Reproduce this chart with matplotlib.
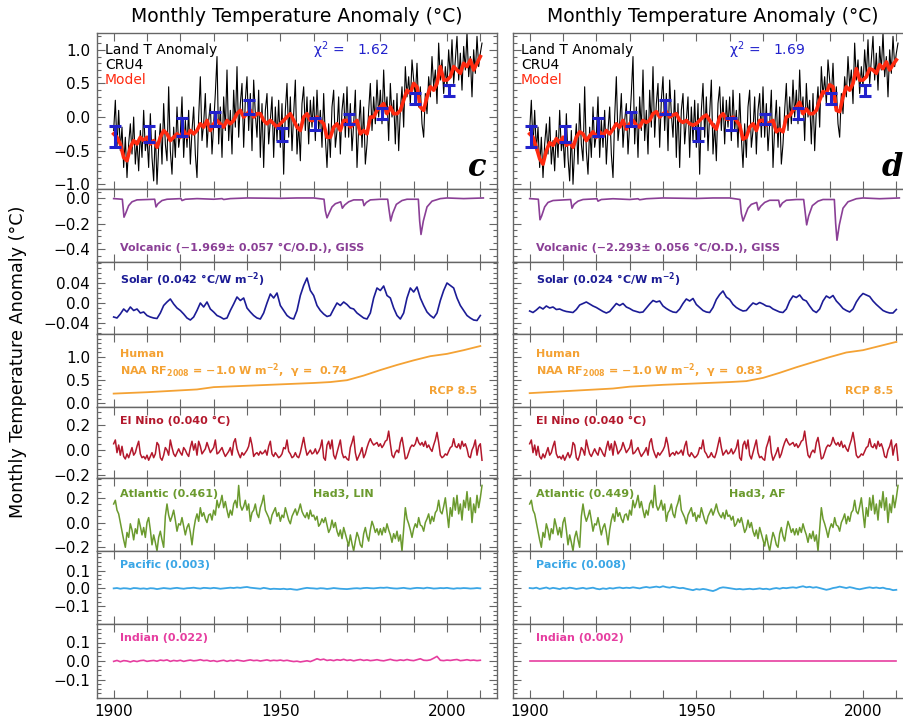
import numpy as np
import matplotlib.pyplot as plt
from matplotlib.ticker import MultipleLocator, FuncFormatter

plt.rcParams['font.family'] = ['DejaVu Sans']
plt.rcParams['mathtext.default'] = 'regular'

# ---------------------------------------------------------------------------
# data
# CRU4 land temperature anomaly, half-year steps from 1900.0
cru4 = [
    -0.2, 0.25, -0.45, 0.1, -0.5, -0.15, -0.75, -0.3, -0.9, -0.4,
    -0.1, -0.55, 0.0, -0.7, -0.35, -0.8, -0.2, -0.6, 0.1, -0.5,
    -0.3, -0.75, 0.05, -0.6, -0.95, -0.2, -1.0, -0.45, -0.1, -0.7,
    0.2, -0.4, -0.65, 0.45, -0.5, -0.85, -0.15, -0.6, 0.15, -0.45,
    -0.25, 0.3, -0.6, -0.05, -0.45, 0.1, -0.7, -0.2, 0.15, -0.55,
    -0.9, 0.0, 0.6, -0.35, -0.1, 0.35, -0.45, -0.05, 0.2, -0.55,
    -0.1, 0.35, 0.9, -0.4, 0.15, -0.6, 0.3, -0.2, 0.7, -0.35,
    0.1, -0.55, 0.4, -0.15, 0.75, -0.3, 0.2, 0.5, -0.45, 0.25,
    0.6, -0.2, 0.35, -0.5, 0.55, 0.05, -0.3, 0.4, -0.6, 0.2,
    -0.75, 0.1, 0.35, -0.4, -0.05, 0.3, -0.6, 0.15, -0.35, 0.25,
    -0.45, 0.2, -0.85, 0.1, 0.5, -0.3, 0.3, -0.5, 0.05, 0.55,
    -0.55, -0.1, -0.65, 0.2, 0.45, -0.2, 0.3, -0.4, 0.25, -0.15,
    0.3, -0.35, 0.4, -0.2, 0.1, -0.45, 0.35, -0.3, -0.75, -0.1,
    -0.6, 0.15, 0.4, -0.45, -0.2, 0.3, -0.55, 0.1, 0.35, -0.3,
    0.45, -0.3, 0.2, -0.5, -0.1, 0.4, -0.75, -0.15, 0.25, -0.45,
    0.15, -0.7, -0.4, 0.1, 0.5, -0.2, 0.3, -0.1, 0.55, 0.0,
    0.4, -0.1, 0.7, 0.05, 0.3, -0.35, 0.5, 0.0, 0.25, -0.4,
    0.35, -0.5, 0.1, 0.45, -0.15, 0.75, 0.3, 0.6, 0.2, 0.85,
    0.55, 0.3, 0.8, 0.15, 0.45, -0.1, -0.3, 0.35, 0.05, 0.6,
    0.3, 0.9, 0.45, 0.7, 0.2, 1.1, 0.55, 0.85, 0.35, 0.75,
    0.45, 1.0, 0.6, 1.15, 0.5, 0.85, 1.2, 0.55, 0.95, 0.4,
    1.05, 0.7, 1.25, 0.6, 0.9, 0.3, 1.0, 0.65, 1.2, 0.75,
    0.95, 1.1,
]

# decadal means of the observations with their uncertainty
dec_years = [1900.5, 1910.5, 1920.5, 1930.5, 1940.5, 1950.5,
             1960.5, 1970.5, 1980.5, 1990.5, 2000.5]
dec_mean = [-0.29, -0.25, -0.15, -0.03, 0.15, -0.26, -0.1, -0.03, 0.05, 0.28, 0.4]
dec_err = [0.15, 0.12, 0.13, 0.11, 0.11, 0.1, 0.09, 0.08, 0.08, 0.08, 0.08]

# fitted model, yearly from 1900
model_c = [
    -0.25, -0.3, -0.4, -0.6, -0.65, -0.45, -0.35, -0.4, -0.3, -0.35,
    -0.3, -0.4, -0.35, -0.45, -0.3, -0.2, -0.25, -0.35, -0.3, -0.25,
    -0.3, -0.2, -0.3, -0.2, -0.25, -0.2, -0.1, -0.15, -0.05, -0.2,
    -0.1, -0.05, -0.1, -0.15, -0.05, -0.1, -0.05, 0.05, 0.1, 0.0,
    0.05, 0.1, 0.0, 0.05, 0.05, -0.05, -0.1, -0.05, -0.1, -0.15,
    -0.1, -0.05, 0.0, 0.05, -0.05, -0.15, -0.2, 0.0, 0.05, -0.05,
    -0.05, 0.0, -0.05, -0.1, -0.3, -0.3, -0.15, -0.1, -0.2, -0.05,
    -0.05, -0.15, -0.1, -0.05, -0.25, -0.2, -0.25, 0.0, 0.0, 0.1,
    0.15, 0.2, 0.05, 0.15, 0.05, 0.05, 0.1, 0.25, 0.4, 0.35,
    0.5, 0.45, 0.15, 0.1, 0.3, 0.45, 0.4, 0.5, 0.75, 0.55,
    0.55, 0.6, 0.75, 0.7, 0.65, 0.8, 0.75, 0.85, 0.7, 0.8, 0.9,
]
model_d = [
    -0.25, -0.3, -0.45, -0.62, -0.7, -0.5, -0.38, -0.42, -0.32, -0.38,
    -0.3, -0.42, -0.38, -0.45, -0.3, -0.22, -0.25, -0.35, -0.28, -0.22,
    -0.3, -0.22, -0.28, -0.2, -0.25, -0.18, -0.1, -0.15, -0.05, -0.18,
    -0.1, -0.05, -0.12, -0.15, -0.05, -0.08, -0.05, 0.05, 0.08, 0.0,
    0.05, 0.08, 0.0, 0.03, 0.05, -0.05, -0.08, -0.05, -0.1, -0.12,
    -0.1, -0.05, 0.0, 0.03, -0.05, -0.12, -0.18, 0.0, 0.05, -0.03,
    -0.03, 0.0, -0.05, -0.12, -0.33, -0.3, -0.15, -0.1, -0.2, -0.05,
    -0.05, -0.12, -0.08, -0.05, -0.22, -0.18, -0.22, 0.0, 0.02, 0.1,
    0.15, 0.22, 0.05, 0.12, 0.05, 0.05, 0.1, 0.25, 0.38, 0.35,
    0.48, 0.45, 0.1, 0.08, 0.3, 0.45, 0.4, 0.5, 0.72, 0.55,
    0.55, 0.6, 0.72, 0.7, 0.65, 0.78, 0.72, 0.82, 0.7, 0.78, 0.85,
]

# volcanic response, sampled around each eruption
volc_years = [1900, 1902.6, 1903.1, 1903.6, 1904.5, 1905.5, 1907, 1912.3, 1912.7,
              1913.3, 1914.5, 1916, 1920.2, 1920.5, 1921.5, 1925, 1930, 1932.5,
              1933, 1935, 1940, 1950, 1955, 1960, 1963.1, 1963.5, 1964.0, 1964.6,
              1965.5, 1966.5, 1968.1, 1968.6, 1969.3, 1970.5, 1972, 1974.7, 1975.1,
              1975.8, 1977, 1980, 1982.2, 1982.6, 1983.1, 1983.7, 1984.8, 1986.5,
              1988, 1991.4, 1991.8, 1992.2, 1992.9, 1994, 1995.5, 1998, 2000,
              2005, 2010.9]
volc_c = [-0.005, -0.01, -0.15, -0.12, -0.06, -0.03, -0.015, -0.01, -0.07,
          -0.045, -0.02, -0.01, -0.005, -0.02, -0.01, -0.005, -0.01, -0.005,
          -0.012, -0.005, 0.0, -0.003, 0.0, 0.0, -0.01, -0.1, -0.155, -0.12,
          -0.07, -0.045, -0.03, -0.08, -0.055, -0.03, -0.015, -0.015, -0.06,
          -0.035, -0.015, -0.01, -0.01, -0.09, -0.18, -0.12, -0.05, -0.02,
          -0.01, -0.01, -0.18, -0.285, -0.18, -0.07, -0.025, -0.005, 0.0,
          -0.005, 0.0]
volc_d = [-0.005, -0.01, -0.17, -0.14, -0.07, -0.035, -0.02, -0.012, -0.08,
          -0.05, -0.025, -0.012, -0.006, -0.025, -0.012, -0.006, -0.012, -0.006,
          -0.014, -0.006, 0.0, -0.004, 0.0, 0.0, -0.012, -0.12, -0.18, -0.14,
          -0.08, -0.05, -0.035, -0.095, -0.065, -0.035, -0.018, -0.018, -0.07,
          -0.04, -0.018, -0.012, -0.012, -0.1, -0.21, -0.14, -0.06, -0.025,
          -0.012, -0.012, -0.2, -0.33, -0.21, -0.08, -0.03, -0.006, 0.0,
          -0.006, 0.0]

# solar response, yearly from 1900
solar_c = [
    -0.028, -0.03, -0.022, -0.012, -0.018, -0.008, -0.015, -0.012, -0.02, -0.018,
    -0.025, -0.028, -0.03, -0.031, -0.02, -0.005, 0.002, 0.008, -0.002, -0.01,
    -0.015, -0.022, -0.03, -0.034, -0.028, -0.015, 0.0, -0.008, 0.002, -0.012,
    -0.018, -0.025, -0.028, -0.032, -0.03, -0.015, -0.002, 0.012, 0.005, 0.01,
    -0.01, -0.018, -0.025, -0.03, -0.032, -0.02, 0.0, 0.018, 0.01, 0.02,
    -0.005, -0.015, -0.025, -0.03, -0.032, -0.015, 0.015, 0.035, 0.05, 0.025,
    0.015, -0.005, -0.015, -0.022, -0.027, -0.025, -0.012, 0.0, -0.005, 0.002,
    -0.003, -0.01, -0.012, -0.02, -0.025, -0.03, -0.032, -0.02, 0.01, 0.03,
    0.025, 0.034, 0.015, 0.01, -0.01, -0.025, -0.032, -0.02, 0.01, 0.03,
    0.022, 0.032, 0.01, -0.005, -0.018, -0.025, -0.03, -0.02, 0.005, 0.025,
    0.04, 0.035, 0.03, 0.01, -0.005, -0.015, -0.025, -0.03, -0.034, -0.035, -0.025,
]
solar_d = [
    -0.016, -0.019, -0.014, -0.008, -0.012, -0.006, -0.01, -0.008, -0.013, -0.012,
    -0.015, -0.017, -0.018, -0.019, -0.013, -0.004, -0.001, 0.002, -0.002, -0.006,
    -0.009, -0.013, -0.017, -0.02, -0.017, -0.009, -0.001, -0.005, -0.001, -0.008,
    -0.011, -0.015, -0.017, -0.019, -0.018, -0.01, -0.002, 0.005, 0.002, 0.004,
    -0.006, -0.011, -0.015, -0.018, -0.019, -0.012, -0.001, 0.008, 0.004, 0.009,
    -0.003, -0.009, -0.015, -0.018, -0.019, -0.009, 0.007, 0.017, 0.024, 0.012,
    0.007, -0.003, -0.009, -0.013, -0.016, -0.015, -0.007, 0.0, -0.003, 0.001,
    -0.002, -0.006, -0.007, -0.012, -0.015, -0.018, -0.019, -0.012, 0.004, 0.014,
    0.011, 0.016, 0.007, 0.004, -0.006, -0.015, -0.019, -0.012, 0.004, 0.014,
    0.01, 0.015, 0.004, -0.003, -0.011, -0.015, -0.018, -0.012, 0.002, 0.012,
    0.019, 0.016, 0.013, 0.004, -0.003, -0.009, -0.015, -0.018, -0.02, -0.02, -0.013,
]

# anthropogenic response (RCP 8.5)
human_years = [1900, 1910, 1920, 1925, 1930, 1940, 1950, 1960, 1965,
               1970, 1975, 1980, 1985, 1990, 1995, 2000, 2005, 2010]
human_c = [0.21, 0.24, 0.28, 0.3, 0.35, 0.38, 0.41, 0.44, 0.46,
           0.5, 0.6, 0.72, 0.83, 0.93, 1.02, 1.07, 1.15, 1.24]
human_d = [0.22, 0.26, 0.3, 0.32, 0.36, 0.4, 0.43, 0.46, 0.48,
           0.55, 0.66, 0.78, 0.89, 1.0, 1.1, 1.15, 1.24, 1.33]

# ENSO response, half-year steps from 1900.0 (same in both fits)
enso = [
    0.05, 0.08, -0.02, 0.04, -0.04, 0.03, -0.05, -0.07, -0.03, -0.06,
    -0.02, 0.02, -0.04, -0.02, 0.03, 0.07, -0.03, -0.06, -0.05, -0.07,
    -0.04, -0.08, -0.05, -0.02, -0.06, -0.03, 0.06, 0.04, -0.06, -0.08,
    -0.04, 0.02, 0.0, -0.04, 0.08, 0.02, -0.03, -0.05, -0.02, 0.01,
    -0.02, -0.04, 0.02, 0.0, -0.03, -0.05, 0.02, 0.07, 0.0, 0.05,
    -0.04, 0.07, 0.03, -0.03, -0.01, 0.01, 0.06, 0.02, -0.02, 0.0,
    0.02, 0.08, -0.03, -0.02, 0.0, 0.02, -0.02, -0.05, -0.03, -0.01,
    0.02, -0.04, 0.06, 0.09, 0.01, -0.03, -0.06, -0.02, -0.04, -0.02,
    0.0, 0.03, 0.1, 0.04, -0.05, -0.03, -0.02, -0.04, -0.01, -0.03,
    -0.02, 0.0, -0.04, 0.03, 0.07, -0.03, -0.05, -0.02, -0.04, -0.06,
    -0.05, -0.03, 0.02, 0.01, 0.08, -0.01, -0.03, -0.06, -0.05, -0.02,
    -0.05, -0.06, -0.02, 0.04, 0.1, 0.02, -0.04, -0.02, 0.0, -0.03,
    -0.02, 0.01, -0.03, -0.01, 0.02, 0.08, -0.06, -0.08, 0.04, 0.07,
    0.01, 0.08, -0.04, -0.07, -0.02, 0.03, 0.08, -0.02, -0.06, -0.05,
    -0.07, -0.08, 0.02, 0.06, 0.11, -0.02, -0.08, -0.05, -0.02, 0.02,
    -0.06, -0.03, 0.02, 0.06, 0.09, 0.06, 0.04, 0.05, 0.06, 0.03,
    0.05, 0.02, 0.04, 0.07, 0.08, 0.15, 0.05, -0.04, -0.06, -0.02,
    0.0, -0.02, 0.06, 0.1, 0.02, -0.07, -0.06, -0.02, 0.02, 0.04,
    0.03, 0.05, 0.1, 0.06, 0.04, 0.06, 0.03, 0.07, 0.02, 0.04,
    0.01, -0.01, 0.04, 0.08, 0.14, 0.06, -0.04, -0.06, -0.05, -0.03,
    -0.04, -0.01, 0.02, 0.03, 0.09, 0.03, 0.02, 0.05, 0.01, 0.07,
    0.03, 0.05, 0.01, -0.05, -0.06, 0.0, 0.03, 0.08, -0.04, 0.03,
    0.05, -0.08,
]

# Atlantic (AMO) response, half-year steps from 1900.0
atlantic = [
    0.15, 0.18, 0.1, 0.07, 0.0, -0.07, -0.14, -0.2, -0.08, -0.12,
    -0.01, -0.06, -0.14, -0.05, -0.09, 0.03, -0.03, -0.1, -0.04, -0.12,
    0.0, 0.04, -0.06, -0.18, -0.1, -0.16, -0.23, -0.12, -0.07, -0.14,
    -0.2, 0.05, 0.15, 0.06, 0.01, 0.05, 0.1, 0.02, -0.07, -0.01,
    -0.02, 0.04, -0.03, -0.1, -0.04, -0.01, -0.08, -0.18, -0.06, 0.02,
    0.07, 0.01, 0.12, 0.05, 0.08, 0.03, 0.0, 0.06, 0.07, 0.02,
    0.1, 0.06, 0.18, 0.12, 0.16, 0.22, 0.12, 0.17, 0.1, 0.04,
    0.1, 0.06, 0.15, 0.18, 0.12, 0.3, 0.14, 0.1, 0.13, 0.18,
    0.1, 0.15, 0.01, 0.08, 0.1, 0.15, 0.07, 0.04, 0.12, 0.16,
    0.22, 0.1, 0.07, 0.04, -0.01, 0.06, 0.09, 0.12, 0.05, 0.08,
    0.01, 0.06, 0.04, 0.12, 0.07, 0.02, -0.01, 0.05, 0.08, 0.11,
    0.06, 0.1, 0.15, 0.09, 0.06, 0.04, 0.08, 0.03, 0.1, 0.05,
    0.06, 0.02, 0.05, -0.03, -0.01, 0.03, 0.0, 0.04, -0.02, -0.08,
    -0.05, 0.02, -0.04, 0.0, -0.07, -0.11, -0.06, -0.13, -0.04, -0.09,
    -0.14, -0.19, -0.1, -0.17, -0.23, -0.15, -0.08, -0.12, -0.18, -0.2,
    -0.09, -0.04, -0.11, -0.15, -0.06, 0.01, -0.03, -0.08, -0.05, -0.1,
    -0.05, -0.1, -0.04, -0.08, -0.01, -0.06, -0.1, -0.16, -0.09, -0.13,
    -0.07, -0.15, -0.1, -0.23, -0.05, 0.12, 0.03, -0.01, -0.06, -0.12,
    -0.05, -0.01, -0.04, 0.04, -0.02, -0.03, -0.07, 0.0, 0.03, 0.07,
    -0.01, 0.05, 0.01, 0.08, 0.1, 0.18, 0.09, 0.07, 0.13, 0.2,
    0.08, -0.04, 0.12, 0.05, 0.2, 0.1, 0.22, 0.07, 0.15, 0.02,
    0.18, 0.12, 0.25, 0.1, 0.2, 0.0, 0.15, 0.08, 0.22, 0.12,
    0.2, 0.3,
]

# Pacific and Indian responses, yearly from 1900
pacific_c = [
    0.0, 0.002, -0.002, 0.001, 0.0, -0.003, 0.002, 0.001, -0.002, 0.0,
    -0.003, 0.001, 0.0, -0.004, -0.001, 0.002, 0.0, -0.002, 0.001, 0.003,
    0.0, -0.002, 0.001, 0.002, 0.004, 0.001, -0.001, 0.003, 0.002, 0.0,
    0.003, 0.001, -0.002, 0.0, 0.002, 0.004, 0.002, 0.005, 0.003, 0.006,
    0.008, 0.004, 0.002, 0.0, -0.002, 0.003, 0.0, -0.004, -0.002, -0.003,
    -0.004, -0.002, -0.005, -0.003, -0.006, -0.008, -0.004, 0.0, 0.003, 0.001,
    0.0, -0.002, 0.001, 0.0, -0.003, -0.001, 0.002, 0.0, -0.002, -0.003,
    -0.004, -0.002, 0.0, 0.001, -0.001, 0.002, 0.003, 0.001, 0.0, 0.002,
    0.004, 0.003, 0.005, 0.002, 0.0, -0.001, 0.001, 0.003, 0.0, -0.002,
    0.001, 0.003, 0.002, 0.0, 0.004, 0.002, -0.001, 0.0, 0.002, 0.001,
    0.003, 0.0, -0.002, 0.001, 0.0, 0.002, 0.001, -0.001, 0.0, 0.002, 0.0,
]
pacific_d = [
    0.002, 0.0, 0.004, -0.003, 0.001, 0.005, -0.002, 0.003, 0.0, -0.004,
    0.002, -0.001, 0.004, 0.001, -0.003, 0.0, 0.003, -0.002, 0.001, 0.004,
    -0.002, -0.005, 0.0, -0.003, 0.002, -0.001, 0.003, 0.005, 0.001, 0.004,
    0.002, 0.006, 0.003, 0.0, 0.005, 0.008, 0.004, 0.007, 0.01, 0.006,
    0.012, 0.007, 0.004, 0.009, 0.005, 0.001, 0.003, -0.002, -0.006, -0.01,
    -0.004, -0.007, -0.003, -0.006, -0.011, -0.015, -0.008, 0.002, 0.006, 0.004,
    0.001, -0.002, -0.005, -0.003, -0.006, -0.004, -0.002, -0.005, -0.003, 0.0,
    -0.004, -0.002, -0.006, -0.001, 0.002, -0.002, 0.003, 0.001, 0.004, 0.006,
    0.003, 0.008, 0.012, 0.006, 0.009, 0.004, 0.007, 0.002, -0.003, -0.008,
    -0.004, 0.002, 0.005, 0.01, 0.006, 0.002, 0.007, 0.003, -0.002, -0.005,
    -0.001, 0.003, 0.006, 0.002, 0.005, 0.001, 0.004, -0.002, -0.004, -0.01, -0.008,
]
indian_c = [
    -0.002, 0.003, -0.004, 0.002, 0.0, -0.005, 0.001, -0.003, 0.002, 0.004,
    -0.002, 0.001, 0.003, -0.001, 0.005, 0.002, 0.006, -0.002, 0.003, 0.0,
    0.004, -0.002, 0.002, 0.005, 0.001, 0.003, 0.007, 0.002, 0.004, -0.001,
    0.002, -0.003, 0.001, 0.004, -0.002, 0.003, 0.0, 0.005, 0.002, -0.001,
    0.003, 0.006, 0.002, 0.004, 0.0, 0.003, 0.006, 0.001, 0.004, 0.002,
    0.005, 0.001, 0.004, 0.0, -0.003, -0.001, -0.005, -0.002, 0.001, -0.003,
    0.004, 0.012, 0.006, 0.01, 0.003, 0.006, 0.002, 0.007, 0.004, 0.009,
    0.003, 0.006, 0.001, 0.005, 0.008, 0.003, 0.006, 0.002, 0.004, 0.007,
    0.003, 0.001, 0.005, 0.009, 0.004, 0.002, 0.006, 0.003, 0.008, 0.004,
    0.002, 0.007, 0.012, 0.004, 0.003, 0.006, 0.015, 0.025, 0.004, 0.002,
    0.005, 0.003, 0.006, 0.008, 0.002, 0.004, 0.007, 0.003, 0.005, 0.002, 0.004,
]
indian_d = [0.0] * len(indian_c)

# per-fit annotations
fits = [
    dict(letter='c', chi2='1.62', model=model_c, volc=volc_c,
         volc_txt='Volcanic (\u22121.969\u00b1 0.057 \u00b0C/O.D.), GISS',
         solar=solar_c, solar_txt='0.042', human=human_c, gamma='0.74',
         atl_txt='Atlantic (0.461)', atl_src='Had3, LIN', pac=pacific_c,
         pac_txt='Pacific (0.003)', ind=indian_c, ind_txt='Indian (0.022)'),
    dict(letter='d', chi2='1.69', model=model_d, volc=volc_d,
         volc_txt='Volcanic (\u22122.293\u00b1 0.056 \u00b0C/O.D.), GISS',
         solar=solar_d, solar_txt='0.024', human=human_d, gamma='0.83',
         atl_txt='Atlantic (0.449)', atl_src='Had3, AF', pac=pacific_d,
         pac_txt='Pacific (0.008)', ind=indian_d, ind_txt='Indian (0.002)'),
]

# ---------------------------------------------------------------------------
# layout (pixels of a 904x722 canvas)
W, H = 904, 722
col_left = [97, 513]
col_width = 400
rows = [(33, 189), (189, 262), (262, 334), (334, 407),
        (407, 478), (478, 551), (551, 624), (624, 698)]

# y range, major ticks, labels, minor step for each row
yspec = [
    ((-1.07, 1.25), [-1, -0.5, 0, 0.5, 1], ['\u22121.0', '\u22120.5', '0.0', '0.5', '1.0'], 0.1),
    ((-0.5, 0.07), [-0.4, -0.2, 0], ['\u22120.4', '\u22120.2', '0.0'], 0.05),
    ((-0.062, 0.082), [-0.04, 0, 0.04], ['\u22120.04', '0.0', '0.04'], 0.01),
    ((-0.08, 1.5), [0, 0.5, 1], ['0.0', '0.5', '1.0'], 0.1),
    ((-0.22, 0.34), [-0.2, 0, 0.2], ['\u22120.2', '0.0', '0.2'], 0.05),
    ((-0.23, 0.36), [-0.2, 0, 0.2], ['\u22120.2', '0.0', '0.2'], 0.05),
    ((-0.2, 0.21), [-0.1, 0, 0.1], ['\u22120.1', '0.0', '0.1'], 0.025),
    ((-0.2, 0.2), [-0.1, 0, 0.1], ['\u22120.1', '0.0', '0.1'], 0.025),
]

C_VOLC = '#8a3f96'
C_SOLAR = '#1c1c96'
C_HUMAN = '#f4a234'
C_ENSO = '#b3182c'
C_ATL = '#6b9a2e'
C_PAC = '#3aa6e6'
C_IND = '#e63ea0'
C_MODEL = '#ff2a10'
C_BLUE = '#2222cc'
FRAME = '#666666'

half_years = 1900 + 0.5 * np.arange(len(cru4))
years = 1900 + np.arange(len(model_c))

fig = plt.figure(figsize=(W / 100, H / 100), dpi=100)


def label(ax, x, y, s, color, size=8, **kw):
    ax.text(x, y, s, transform=ax.transAxes, color=color, fontsize=size,
            fontweight='bold', va='center', **kw)


for ci, fit in enumerate(fits):
    axes = []
    for ri, (top, bot) in enumerate(rows):
        ax = fig.add_axes([col_left[ci] / W, 1 - bot / H, col_width / W, (bot - top) / H])
        ylim, major, ylabels, minor = yspec[ri]
        ax.set_xlim(1895, 2015)
        ax.set_ylim(*ylim)
        ax.xaxis.set_major_locator(MultipleLocator(10))
        ax.set_yticks(major)
        ax.yaxis.set_minor_locator(MultipleLocator(minor))
        ax.tick_params(which='both', direction='in', top=True, right=True,
                       color=FRAME, width=0.8, labelsize=11, pad=5)
        ax.tick_params(which='major', length=6)
        ax.tick_params(which='minor', length=3)
        if ci == 0:
            ax.set_yticklabels(ylabels)
        else:
            ax.set_yticklabels([])
        if ri == len(rows) - 1:
            ax.xaxis.set_major_formatter(FuncFormatter(
                lambda v, p: '%d' % v if int(round(v)) % 50 == 0 else ''))
            ax.tick_params(axis='x', pad=4)
        else:
            ax.set_xticklabels([])
        for sp in ax.spines.values():
            sp.set_color(FRAME)
            sp.set_linewidth(1.0)
        axes.append(ax)

    a_t, a_v, a_s, a_h, a_e, a_a, a_p, a_i = axes

    # observations, model and decadal means
    a_t.plot(half_years, cru4, color='black', lw=0.8)
    a_t.plot(years, fit['model'], color=C_MODEL, lw=2.6)
    a_t.errorbar(dec_years, dec_mean, yerr=dec_err, fmt='none', ecolor=C_BLUE,
                 elinewidth=2.2, capsize=4, capthick=2.2)
    a_t.text(0.02, 0.89, 'Land T Anomaly', transform=a_t.transAxes, fontsize=10, va='center')
    a_t.text(0.02, 0.795, 'CRU4', transform=a_t.transAxes, fontsize=10, va='center')
    a_t.text(0.02, 0.70, 'Model', transform=a_t.transAxes, fontsize=10, va='center', color=C_MODEL)
    a_t.text(0.54, 0.89, '$\\chi^2$ =   ' + fit['chi2'], transform=a_t.transAxes,
             fontsize=10, va='center', color=C_BLUE)
    a_t.text(0.975, 0.14, fit['letter'], transform=a_t.transAxes, fontsize=22,
             fontweight='bold', fontstyle='italic', family='DejaVu Serif',
             ha='right', va='center')

    a_v.plot(volc_years, fit['volc'], color=C_VOLC, lw=1.2)
    label(a_v, 0.058, 0.19, fit['volc_txt'], C_VOLC)

    a_s.plot(years, fit['solar'], color=C_SOLAR, lw=1.2)
    label(a_s, 0.058, 0.76, 'Solar (' + fit['solar_txt'] + ' \u00b0C/W m$^{-2}$)', C_SOLAR)

    a_h.plot(human_years, fit['human'], color=C_HUMAN, lw=1.3)
    label(a_h, 0.058, 0.73, 'Human', C_HUMAN)
    label(a_h, 0.058, 0.50, 'NAA RF$_{2008}$ = \u22121.0 W m$^{-2}$,  \u03b3 =  ' + fit['gamma'], C_HUMAN)
    label(a_h, 0.95, 0.22, 'RCP 8.5', C_HUMAN, ha='right')

    a_e.plot(half_years, enso, color=C_ENSO, lw=1.1)
    label(a_e, 0.058, 0.80, 'El Nino (0.040 \u00b0C)', C_ENSO)

    a_a.plot(half_years, atlantic, color=C_ATL, lw=1.1)
    label(a_a, 0.058, 0.78, fit['atl_txt'], C_ATL)
    label(a_a, 0.54, 0.78, fit['atl_src'], C_ATL)

    a_p.plot(years, fit['pac'], color=C_PAC, lw=1.3)
    label(a_p, 0.058, 0.81, fit['pac_txt'], C_PAC)

    a_i.plot(years, fit['ind'], color=C_IND, lw=1.2)
    label(a_i, 0.058, 0.81, fit['ind_txt'], C_IND)

    fig.text((col_left[ci] + col_width / 2) / W, 1 - 17 / H,
             'Monthly Temperature Anomaly (\u00b0C)', ha='center', va='center', fontsize=13.5)

fig.text(18 / W, 1 - 362 / H, 'Monthly Temperature Anomaly (\u00b0C)', rotation=90,
         ha='center', va='center', fontsize=12.7)

fig.savefig('out.png', dpi=100)
